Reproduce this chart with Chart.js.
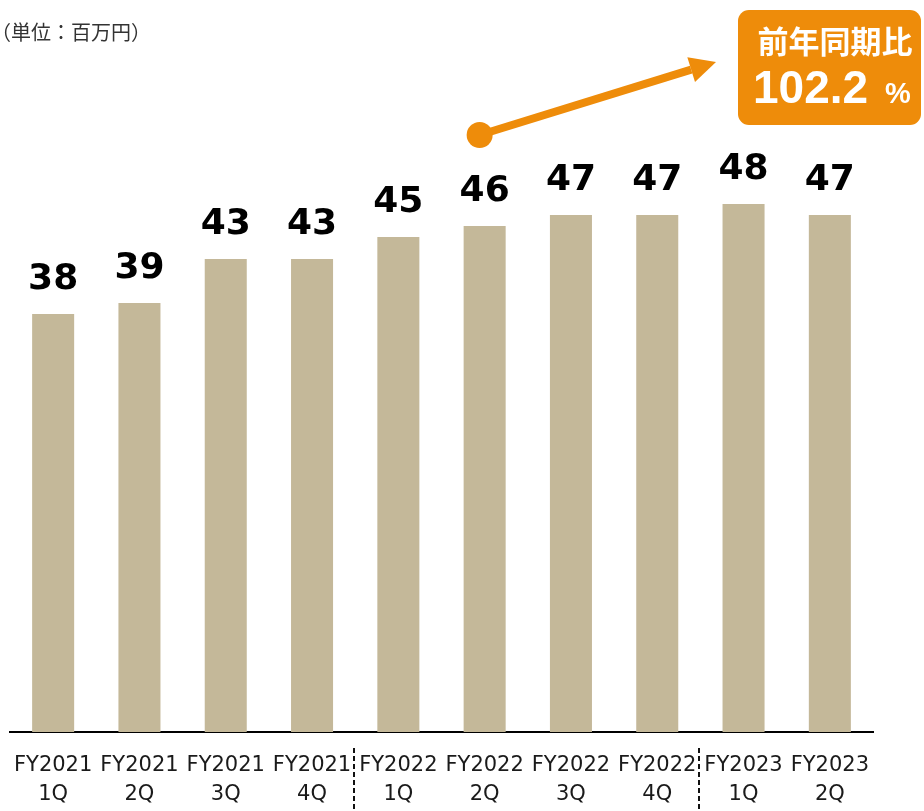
<!DOCTYPE html>
<html>
<head>
<meta charset="utf-8">
<script src="https://cdn.jsdelivr.net/npm/chart.js@4/dist/chart.umd.min.js"></script>
<style>
  html, body { margin: 0; padding: 0; background: #fff; }
  #wrap { position: relative; width: 924px; height: 811px; }
</style>
</head>
<body>
<div id="wrap"><canvas id="sales" width="924" height="811"></canvas></div>
<script>
// data
const years = ["FY2021", "FY2021", "FY2021", "FY2021", "FY2022", "FY2022", "FY2022", "FY2022", "FY2023", "FY2023"];
const quarters = ["1Q", "2Q", "3Q", "4Q", "1Q", "2Q", "3Q", "4Q", "1Q", "2Q"];
const sales = [38, 39, 43, 43, 45, 46, 47, 47, 48, 47];
const unitText = "（単位：百万円）";
const yoyTitle = "前年同期比";
const yoyValue = "102.2";
const yoyArrowFrom = 5; // FY2022 2Q

const barColor = "#c4b899";
const orange = "#ee8c0a";

// value labels above bars, year separators, unit text, yoy badge
const extras = {
  id: "extras",
  afterDatasetsDraw(chart) {
    const ctx = chart.ctx;
    const xs = chart.scales.x;
    const ys = chart.scales.y;
    const meta = chart.getDatasetMeta(0);

    ctx.save();
    // value labels
    ctx.fillStyle = "#000";
    ctx.font = "bold 36px 'DejaVu Sans', Verdana, sans-serif";
    ctx.textAlign = "center";
    ctx.textBaseline = "alphabetic";
    meta.data.forEach((bar, i) => {
      ctx.fillText(String(sales[i]), bar.x, bar.y - 25);
    });

    // dashed separators between fiscal years
    ctx.strokeStyle = "#111";
    ctx.lineWidth = 2;
    ctx.setLineDash([5, 3]);
    for (let i = 1; i < years.length; i++) {
      if (years[i] !== years[i - 1]) {
        const x = Math.round((xs.getPixelForValue(i - 1) + xs.getPixelForValue(i)) / 2) - 1;
        ctx.beginPath();
        ctx.moveTo(x, chart.chartArea.bottom + 16);
        ctx.lineTo(x, chart.height);
        ctx.stroke();
      }
    }
    ctx.setLineDash([]);

    // unit text
    ctx.fillStyle = "#333";
    ctx.font = "20px 'Noto Sans CJK JP', sans-serif";
    ctx.textAlign = "left";
    ctx.textBaseline = "middle";
    ctx.fillText(unitText, -9, 32);

    // yoy arrow
    const sx = xs.getPixelForValue(yoyArrowFrom) - 5;
    const sy = ys.getPixelForValue(sales[yoyArrowFrom]) - 91;
    const tx = 716, ty = 62;
    const ang = Math.atan2(ty - sy, tx - sx);
    const headLen = 26, headW = 13;
    const bx = tx - headLen * Math.cos(ang), by = ty - headLen * Math.sin(ang);
    ctx.strokeStyle = orange;
    ctx.fillStyle = orange;
    ctx.lineWidth = 8;
    ctx.beginPath();
    ctx.moveTo(sx, sy);
    ctx.lineTo(bx, by);
    ctx.stroke();
    ctx.beginPath();
    ctx.moveTo(tx, ty);
    ctx.lineTo(bx + headW * Math.sin(ang), by - headW * Math.cos(ang));
    ctx.lineTo(bx - headW * Math.sin(ang), by + headW * Math.cos(ang));
    ctx.closePath();
    ctx.fill();
    ctx.beginPath();
    ctx.arc(sx, sy, 13, 0, Math.PI * 2);
    ctx.fill();

    // yoy badge
    ctx.beginPath();
    ctx.roundRect(738, 10, 183, 115, 11);
    ctx.fill();
    ctx.fillStyle = "#fff";
    ctx.textAlign = "center";
    ctx.textBaseline = "middle";
    ctx.font = "bold 31px 'Noto Sans CJK JP', sans-serif";
    ctx.fillText(yoyTitle, 835, 41);
    ctx.textAlign = "left";
    ctx.textBaseline = "alphabetic";
    ctx.font = "bold 46px 'Liberation Sans', Arial, sans-serif";
    ctx.fillText(yoyValue, 753, 103);
    ctx.font = "bold 29px 'Liberation Sans', Arial, sans-serif";
    ctx.fillText("%", 885, 103);
    ctx.restore();
  }
};

new Chart(document.getElementById("sales"), {
  type: "bar",
  data: {
    labels: years.map((y, i) => [y, quarters[i]]),
    datasets: [{
      data: sales,
      backgroundColor: barColor,
      borderWidth: 0,
      barPercentage: 0.487,
      categoryPercentage: 1
    }]
  },
  options: {
    responsive: false,
    animation: false,
    devicePixelRatio: 1,
    layout: { padding: { top: 6, left: 10, right: 51, bottom: 0 } },
    plugins: { legend: { display: false }, tooltip: { enabled: false } },
    scales: {
      x: {
        grid: { display: false },
        border: { display: true, color: "#000", width: 2 },
        ticks: {
          color: "#1a1a1a",
          font: { family: "'DejaVu Sans', Verdana, sans-serif", size: 21, lineHeight: 1.38 },
          padding: 11,
          maxRotation: 0,
          autoSkip: false
        },
        afterFit(scale) { scale.height = 79; }
      },
      y: {
        display: false,
        min: 0,
        max: 66
      }
    }
  },
  plugins: [extras]
});
</script>
</body>
</html>
